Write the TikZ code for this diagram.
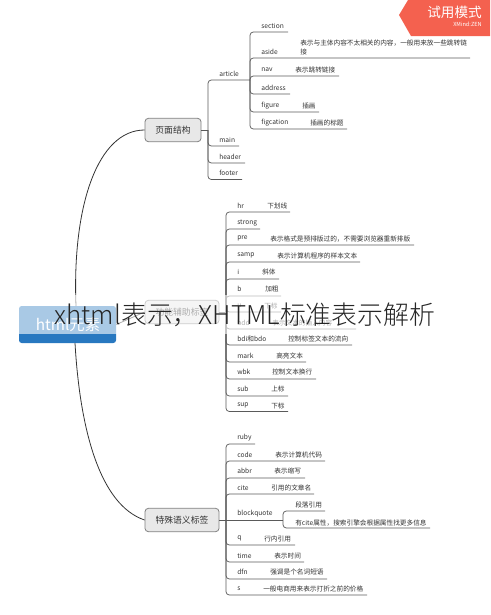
\documentclass[tikz,border=0pt]{standalone}
\usepackage{fontspec}
\setmainfont{Noto Sans CJK SC}
\newfontfamily\titlefont{Noto Sans CJK SC Light}
\usepackage{xcolor}
\usetikzlibrary{positioning}
\definecolor{rootblue}{HTML}{2878C0}
\definecolor{badgered}{HTML}{F4614F}
\definecolor{linegray}{HTML}{5A5A5A}

\begin{document}
\begin{tikzpicture}[
        x=0.75pt, y=-0.75pt,
        every node/.style={font=\fontsize{5}{6.5}\selectfont, text=black!80},
        root/.style={
            fill=rootblue,
            rounded corners=2pt,
            minimum width=72.75pt,
            minimum height=27.75pt
        },
        topic/.style={
            draw=black!50,
            fill=black!9,
            semithick,
            rounded corners=2.5pt,
            minimum height=17.5pt,
            inner sep=0pt,
            font=\fontsize{6.6}{8}\selectfont
        },
        leaf/.style={anchor=west, inner sep=0pt, yshift=-0.5pt},
        link/.style={draw=linegray, line width=0.55pt, rounded corners=2.5pt},
        trunk/.style={draw=black!80, line width=0.6pt}
    ]
        \useasboundingbox (0,0) rectangle (490,615);

        % centre and main topics
        \node[root] (html) at (67.5,324.5) {};
        \node[topic, minimum width=42pt] (page) at (173,130) {页面结构};
        \node[topic, minimum width=55.5pt] (func) at (182,312) {功能辅助标签};
        \node[topic, minimum width=55.5pt] (sema) at (182,520) {特殊语义标签};

        \coordinate (htmlUp) at (76,306);
        \coordinate (htmlDown) at (75,343);
        \draw[trunk] (htmlUp) .. controls (72,205) and (98,130) .. (page.west);
        \draw[trunk] (htmlDown) .. controls (80,430) and (100,505) .. (sema.west);
        \draw[trunk] (html.east) -- (func.west);

        % page structure
        \node[leaf] (article) at (219,73) {article};
        \node[leaf] (main) at (219,139) {main};
        \node[leaf] (header) at (219,156) {header};
        \node[leaf] (footer) at (219,172) {footer};
        \coordinate (pageFork) at (208,130);
        \coordinate (articleEnd) at (250,80);
        \coordinate (mainEnd) at (239,146);
        \coordinate (headerEnd) at (245,163);
        \coordinate (footerEnd) at (242,179.5);
        \draw[link] (page.east) -- (pageFork);
        \draw[link] (pageFork) |- (articleEnd);
        \draw[link] (pageFork) |- (mainEnd);
        \draw[link] (pageFork) |- (headerEnd);
        \draw[link] (pageFork) |- (footerEnd);

        \node[leaf] (section) at (261,25) {section};
        \node[leaf] (aside) at (261,51) {aside};
        \node[leaf, align=left, text width=173pt] (asideNote) at (300,46.5) {表示与主体内容不太相关的内容，一般用来放一些跳转链\\接};
        \node[leaf] (nav) at (261,69) {nav};
        \node[leaf] (navNote) at (295,69) {表示跳转链接};
        \node[leaf] (address) at (261,87) {address};
        \node[leaf] (figure) at (261,105) {figure};
        \node[leaf] (figureNote) at (302,105) {插画};
        \node[leaf] (figcation) at (261,122) {figcation};
        \node[leaf] (figcationNote) at (310,122) {插画的标题};
        \coordinate (sectionEnd) at (288,32);
        \coordinate (asideEnd) at (470,58);
        \coordinate (navEnd) at (339,76);
        \coordinate (addressEnd) at (290,94);
        \coordinate (figureEnd) at (319,112);
        \coordinate (figcationEnd) at (347,129);
        \draw[link] (articleEnd) |- (sectionEnd);
        \draw[link] (articleEnd) |- (asideEnd);
        \draw[link] (articleEnd) |- (navEnd);
        \draw[link] (articleEnd) |- (addressEnd);
        \draw[link] (articleEnd) |- (figureEnd);
        \draw[link] (articleEnd) |- (figcationEnd);

        % function tags
        \node[leaf] (hr) at (237,205) {hr};
        \node[leaf] (hrNote) at (267,205) {下划线};
        \node[leaf] (strong) at (237,222) {strong};
        \node[leaf] (pre) at (237,238) {pre};
        \node[leaf] (preNote) at (270,238) {表示格式是预排版过的，不需要浏览器重新排版};
        \node[leaf] (samp) at (237,255) {samp};
        \node[leaf] (sampNote) at (277,255) {表示计算机程序的样本文本};
        \node[leaf] (itag) at (237,271) {i};
        \node[leaf] (itagNote) at (262,271) {斜体};
        \node[leaf] (btag) at (237,288) {b};
        \node[leaf] (btagNote) at (265,288) {加粗};
        \node[leaf] (utag) at (237,305) {u};
        \node[leaf] (utagNote) at (264,305) {下标};
        \node[leaf] (bdd) at (237,322) {bdd};
        \node[leaf] (bddNote) at (272,322) {表示文本的插入内容};
        \node[leaf] (bdi) at (237,338) {bdi和bdo};
        \node[leaf] (bdiNote) at (288,338) {控制标签文本的流向};
        \node[leaf] (mark) at (237,355) {mark};
        \node[leaf] (markNote) at (276,355) {高亮文本};
        \node[leaf] (wbk) at (237,371) {wbk};
        \node[leaf] (wbkNote) at (272,371) {控制文本换行};
        \node[leaf] (sub) at (237,388) {sub};
        \node[leaf] (subNote) at (271,388) {上标};
        \node[leaf] (sup) at (237,405) {sup};
        \node[leaf] (supNote) at (271,405) {下标};
        \coordinate (funcFork) at (226,312);
        \coordinate (hrEnd) at (290,212);
        \coordinate (strongEnd) at (260,229);
        \coordinate (preEnd) at (414,245);
        \coordinate (sampEnd) at (360,262);
        \coordinate (itagEnd) at (279,279);
        \coordinate (btagEnd) at (281,296);
        \coordinate (utagEnd) at (281,312);
        \coordinate (bddEnd) at (356,329);
        \coordinate (bdiEnd) at (352,345);
        \coordinate (markEnd) at (306,362);
        \coordinate (wbkEnd) at (316,379);
        \coordinate (subEnd) at (288,396);
        \coordinate (supEnd) at (288,411.5);
        \draw[link] (func.east) -- (funcFork);
        \draw[link] (funcFork) |- (hrEnd);
        \draw[link] (funcFork) |- (strongEnd);
        \draw[link] (funcFork) |- (preEnd);
        \draw[link] (funcFork) |- (sampEnd);
        \draw[link] (funcFork) |- (itagEnd);
        \draw[link] (funcFork) |- (btagEnd);
        \draw[link] (funcFork) |- (utagEnd);
        \draw[link] (funcFork) |- (bddEnd);
        \draw[link] (funcFork) |- (bdiEnd);
        \draw[link] (funcFork) |- (markEnd);
        \draw[link] (funcFork) |- (wbkEnd);
        \draw[link] (funcFork) |- (subEnd);
        \draw[link] (funcFork) |- (supEnd);

        % special semantic tags
        \node[leaf] (ruby) at (237,437) {ruby};
        \node[leaf] (code) at (237,454) {code};
        \node[leaf] (codeNote) at (275,454) {表示计算机代码};
        \node[leaf] (abbr) at (237,470) {abbr};
        \node[leaf] (abbrNote) at (274,470) {表示缩写};
        \node[leaf] (cite) at (237,487) {cite};
        \node[leaf] (citeNote) at (271,487) {引用的文章名};
        \node[leaf] (quote) at (237,513) {blockquote};
        \node[leaf] (para) at (295,504) {段落引用};
        \node[leaf] (citeAttr) at (295,522) {有cite属性，搜索引擎会根据属性找更多信息};
        \node[leaf] (qtag) at (237,538) {q};
        \node[leaf] (qtagNote) at (264,538) {行内引用};
        \node[leaf] (timetag) at (237,555) {time};
        \node[leaf] (timetagNote) at (274,555) {表示时间};
        \node[leaf] (dfn) at (237,571) {dfn};
        \node[leaf] (dfnNote) at (270,571) {强调是个名词短语};
        \node[leaf] (stag) at (237,588) {s};
        \node[leaf] (stagNote) at (263,588) {一般电商用来表示打折之前的价格};
        \coordinate (semaFork) at (226,520);
        \coordinate (rubyEnd) at (255,444);
        \coordinate (codeEnd) at (325,461);
        \coordinate (abbrEnd) at (305,478);
        \coordinate (citeEnd) at (314,494);
        \coordinate (quoteEnd) at (283,520);
        \coordinate (paraEnd) at (325,511);
        \coordinate (citeAttrEnd) at (430,528);
        \coordinate (qtagEnd) at (295,545);
        \coordinate (timetagEnd) at (304,562);
        \coordinate (dfnEnd) at (327,579);
        \coordinate (stagEnd) at (367,595);
        \draw[link] (sema.east) -- (quoteEnd);
        \draw[link] (semaFork) |- (rubyEnd);
        \draw[link] (semaFork) |- (codeEnd);
        \draw[link] (semaFork) |- (abbrEnd);
        \draw[link] (semaFork) |- (citeEnd);
        \draw[link] (semaFork) |- (qtagEnd);
        \draw[link] (semaFork) |- (timetagEnd);
        \draw[link] (semaFork) |- (dfnEnd);
        \draw[link] (semaFork) |- (stagEnd);
        \draw[link] (quoteEnd) |- (paraEnd);
        \draw[link] (quoteEnd) |- (citeAttrEnd);

        % root label, washed out band and title over it
        \node[font=\fontsize{11.5}{13}\selectfont, text=white] (htmlLabel) at (68,325) {html元素};
        \node[
            fill=white, fill opacity=0.6, text opacity=1, inner sep=0pt,
            minimum width=367.5pt, minimum height=29.5pt,
            font=\fontsize{19.4}{24}\selectfont\titlefont, text=black!85
        ] (title) at (245,314.5) {xhtml表示，XHTML标准表示解析};

        % trial badge
        \fill[badgered] (399,15) -- (408,0) -- (490,0) -- (490,36) -- (411,36) -- cycle;
        \node[font=\fontsize{10.2}{12}\selectfont, text=white, anchor=east, inner sep=0pt] (badge) at (482,12) {试用模式};
        \node[font=\fontsize{4.2}{5}\selectfont, text=white, anchor=east, inner sep=0pt] (badgeSub) at (482,24) {XMind:ZEN};
\end{tikzpicture}
\end{document}
